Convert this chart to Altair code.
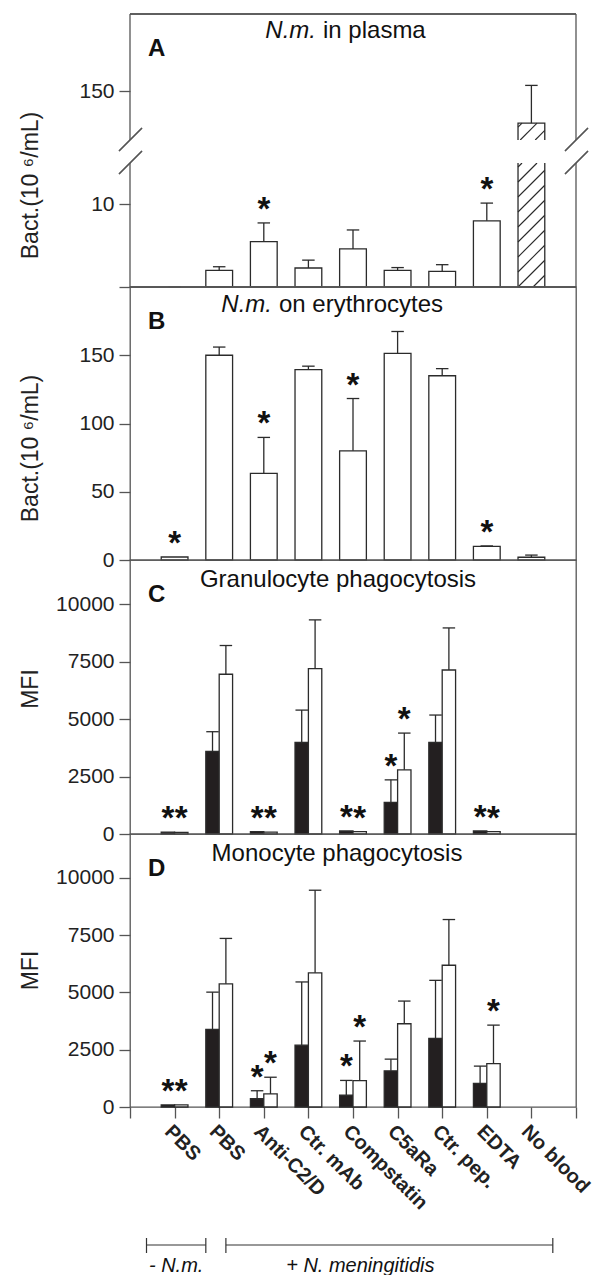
import altair as alt
import pandas as pd

# ---------------- data ----------------
categories = ["PBS", "PBS", "Anti-C2/D", "Ctr. mAb", "Compstatin", "C5aRa", "Ctr. pep.", "EDTA", "No blood"]
positions = [1, 2, 3, 4, 5, 6, 7, 8, 9]

plasma_mean = [0.0, 2.0, 5.5, 2.3, 4.6, 2.0, 1.9, 8.0, 127.0]
plasma_sd = [0.0, 0.45, 2.25, 0.95, 2.3, 0.35, 0.8, 2.15, 27.0]
plasma_star = [0, 0, 1, 0, 0, 0, 0, 1, 0]

erythro_mean = [2.2, 150.0, 63.5, 139.5, 80.0, 151.4, 135.0, 10.0, 2.0]
erythro_sd = [None, 6.0, 26.3, 2.5, 38.3, 16.0, 5.2, 0.3, 1.6]
erythro_star = [1, 0, 1, 0, 1, 0, 0, 1, 0]

gran_black = [80, 3590, 100, 3980, 130, 1380, 3980, 130, None]
gran_black_sd = [None, 860, None, 1410, None, 975, 1195, None, None]
gran_white = [70, 6950, 80, 7195, 100, 2790, 7135, 100, None]
gran_white_sd = [None, 1250, None, 2120, None, 1600, 1830, None, None]
gran_black_star = [1, 0, 1, 0, 1, 1, 0, 1, 0]
gran_white_star = [1, 0, 1, 0, 1, 1, 0, 1, 0]

mono_black = [90, 3390, 360, 2700, 520, 1580, 3000, 1030, None]
mono_black_sd = [None, 1625, 350, 2760, 640, 510, 2530, 755, None]
mono_white = [90, 5380, 570, 5860, 1150, 3635, 6190, 1890, None]
mono_white_sd = [None, 1980, 730, 3605, 1730, 990, 1995, 1685, None]
mono_black_star = [1, 0, 1, 0, 1, 0, 0, 0, 0]
mono_white_star = [1, 0, 1, 0, 1, 0, 0, 1, 0]

group_labels = ["- N.m.", "+ N. meningitidis"]
group_first = [1, 2]
group_last = [1, 9]

# ---------------- layout / style ----------------
W = 446
HA, HB, HC, HD = 273, 273, 274, 273
HALF = 0.3
CAP = 0.14
DARK = "#2b2b2b"
FRAME = "#555555"
BLACK = "#231f20"
FONT = "Liberation Sans"
SW = 1.3

A_LO, A_HI, A_TOP = 15, 115, 205
A_RANGE = [HA, 149, 126, 0]

xs = alt.Scale(domain=[0, 10], nice=False, zero=False)


def make_rows(means, sds, stars, kind, fill):
    recs = []
    for p, m, s, st in zip(positions, means, sds, stars):
        if m is None:
            continue
        if kind == "single":
            x0, x1 = p - HALF, p + HALF
        elif kind == "left":
            x0, x1 = p - HALF, p
        else:
            x0, x1 = p, p + HALF
        xc = (x0 + x1) / 2
        recs.append({"x0": x0, "x1": x1, "xc": xc, "c0": xc - CAP, "c1": xc + CAP,
                     "value": m, "base": 0.0,
                     "top": m + (s if s is not None else 0.0),
                     "err": 1 if s is not None else 0, "star": st, "fill": fill})
    return recs


def data_layers(df, ysc, yax, xax):
    def X(f):
        return alt.X(f, type="quantitative", scale=xs, axis=xax)

    def Y(f):
        return alt.Y(f, type="quantitative", scale=ysc, axis=yax)

    base = alt.Chart(df)
    bars = base.transform_filter("datum.value > 0").mark_rect(stroke=DARK, strokeWidth=SW).encode(
        x=X("x0"), x2=alt.X2("x1"), y=Y("value"), y2=alt.Y2("base"),
        fill=alt.Fill("fill:N", scale=None))
    whisk = base.transform_filter("datum.err == 1 && datum.top > datum.value").mark_rule(
        color=DARK, strokeWidth=SW).encode(x=X("xc"), y=Y("value"), y2=alt.Y2("top"))
    caps = base.transform_filter("datum.err == 1").mark_rule(color=DARK, strokeWidth=SW).encode(
        x=X("c0"), x2=alt.X2("c1"), y=Y("top"))
    stars = base.transform_filter("datum.star == 1").mark_text(
        text="*", font=FONT, fontWeight="bold", fontSize=33, baseline="alphabetic",
        dy=-3, color="#111").encode(x=X("xc"), y=Y("top"))
    return bars, whisk, caps, stars


def text_layer(txt, x, y, align="left", size=24, weight="normal", style="normal"):
    return alt.Chart(pd.DataFrame({"t": [txt]})).mark_text(
        align=align, baseline="alphabetic", font=FONT, fontSize=size, fontWeight=weight,
        fontStyle=style, color="#111").encode(x=alt.value(x), y=alt.value(y), text="t:N")


def yaxis(values, title, ty, fmt=None, expr=None):
    kw = dict(values=values, title=title, titleX=-88, titleY=ty, titleBaseline="bottom",
              titleFont=FONT, titleFontSize=23, titleFontWeight="normal", titleColor="#222",
              tickSize=11, tickWidth=SW, tickColor=FRAME, domain=False, grid=False,
              labelFont=FONT, labelFontSize=21, labelColor="#222", labelPadding=5)
    if fmt:
        kw["format"] = fmt
    if expr:
        kw["labelExpr"] = expr
    return alt.Axis(**kw)


# ---------------- panel A (broken axis) ----------------
dfA = pd.DataFrame(make_rows(plasma_mean, plasma_sd, plasma_star, "single", "white"))
yscA = alt.Scale(domain=[0, A_LO, A_HI, A_TOP], range=A_RANGE, nice=False, zero=False)
yaxA = yaxis([0, 10, 150], "Bact.(10 ⁶/mL)", 171, expr="datum.value == 0 ? '' : datum.label")
barsA, whiskA, capsA, starsA = data_layers(dfA, yscA, yaxA, None)

# hatch pattern for the "No blood" bar (style only)
ppx = W / 10.0
hx0, hx1 = (positions[8] - HALF) * ppx, (positions[8] + HALF) * ppx
slope, step = 1.0, 15.0


def px_to_val(py):
    if py >= A_RANGE[1]:
        return (A_RANGE[0] - py) * A_LO / (A_RANGE[0] - A_RANGE[1])
    return A_HI + (A_RANGE[2] - py) * (A_TOP - A_HI) / (A_RANGE[2] - A_RANGE[3])


def val_to_px(v):
    if v <= A_LO:
        return A_RANGE[0] - v * (A_RANGE[0] - A_RANGE[1]) / A_LO
    return A_RANGE[2] - (v - A_HI) * (A_RANGE[2] - A_RANGE[3]) / (A_TOP - A_HI)


hatch = []
segments = [(val_to_px(A_LO), A_RANGE[0]), (val_to_px(plasma_mean[8]), A_RANGE[2])]
for yT, yB in segments:
    c = yT + 4
    while c < yB + slope * (hx1 - hx0):
        xa = max(hx0, hx0 + (c - yB) / slope)
        xb = min(hx1, hx0 + (c - yT) / slope)
        if xb > xa + 0.5:
            ya = c - slope * (xa - hx0)
            yb = c - slope * (xb - hx0)
            hatch.append({"hx0": xa / ppx, "hx1": xb / ppx, "hy0": px_to_val(ya), "hy1": px_to_val(yb)})
        c += step
hatchA = alt.Chart(pd.DataFrame(hatch)).mark_rule(color=DARK, strokeWidth=1.1).encode(
    x=alt.X("hx0:Q", scale=xs, axis=None), x2=alt.X2("hx1"),
    y=alt.Y("hy0:Q", scale=yscA, axis=yaxA), y2=alt.Y2("hy1"))

gapA = alt.Chart(pd.DataFrame({"g0": [positions[8] - 0.4], "g1": [positions[8] + 0.4],
                               "v0": [A_LO], "v1": [A_HI]})).mark_rect(fill="white").encode(
    x=alt.X("g0:Q", scale=xs, axis=None), x2=alt.X2("g1"),
    y=alt.Y("v0:Q", scale=yscA, axis=yaxA), y2=alt.Y2("v1"))

frame_df = pd.DataFrame({"f0": [0, A_HI], "f1": [A_LO, A_TOP]})
frameL = alt.Chart(frame_df).mark_rule(color=FRAME, strokeWidth=1.3).encode(
    x=alt.value(0), y=alt.Y("f0:Q", scale=yscA, axis=yaxA), y2=alt.Y2("f1"))
frameR = alt.Chart(frame_df).mark_rule(color=FRAME, strokeWidth=1.3).encode(
    x=alt.value(W), y=alt.Y("f0:Q", scale=yscA, axis=yaxA), y2=alt.Y2("f1"))
frameT = alt.Chart(frame_df).mark_rule(color=FRAME, strokeWidth=1.3).encode(
    x=alt.value(0), x2=alt.value(W), y=alt.value(0))
frameB = alt.Chart(frame_df).mark_rule(color=FRAME, strokeWidth=1.3).encode(
    x=alt.value(0), x2=alt.value(W), y=alt.value(HA))

breaks = []
for bx in (0, W):
    for (y0, y1) in ((160, 137), (137, 114)):
        breaks.append(alt.Chart(frame_df).mark_rule(color=FRAME, strokeWidth=1.2).encode(
            x=alt.value(bx - 11), x2=alt.value(bx + 12), y=alt.value(y0), y2=alt.value(y1)))

pA = alt.layer(
    barsA, hatchA, gapA, whiskA, capsA, starsA, frameL, frameR, frameT, frameB, *breaks,
    text_layer("A", 18, 42, weight="bold"),
    text_layer("N.m.", 186, 24, align="right", style="italic"),
    text_layer("in plasma", 193, 24),
).properties(width=W, height=HA, view=alt.ViewBackground(stroke=None))

# ---------------- panel B ----------------
dfB = pd.DataFrame(make_rows(erythro_mean, erythro_sd, erythro_star, "single", "white"))
yscB = alt.Scale(domain=[0, 200], nice=False, zero=False)
yaxB = yaxis([0, 50, 100, 150], "Bact.(10 ⁶/mL)", 161)
pB = alt.layer(
    *data_layers(dfB, yscB, yaxB, None),
    text_layer("B", 18, 42, weight="bold"),
    text_layer("N.m.", 142, 25, align="right", style="italic"),
    text_layer("on erythrocytes", 149, 25),
).properties(width=W, height=HB)

# ---------------- panel C ----------------
dfC = pd.DataFrame(make_rows(gran_black, gran_black_sd, gran_black_star, "left", BLACK)
                   + make_rows(gran_white, gran_white_sd, gran_white_star, "right", "white"))
yscC = alt.Scale(domain=[0, 11920], nice=False, zero=False)
yaxC = yaxis([0, 2500, 5000, 7500, 10000], "MFI", 128.5, fmt="d")
pC = alt.layer(
    *data_layers(dfC, yscC, yaxC, None),
    text_layer("C", 18, 42, weight="bold"),
    text_layer("Granulocyte phagocytosis", 208, 27, align="center"),
).properties(width=W, height=HC)

# ---------------- panel D ----------------
dfD = pd.DataFrame(make_rows(mono_black, mono_black_sd, mono_black_star, "left", BLACK)
                   + make_rows(mono_white, mono_white_sd, mono_white_star, "right", "white"))
yscD = alt.Scale(domain=[0, 11920], nice=False, zero=False)
yaxD = yaxis([0, 2500, 5000, 7500, 10000], "MFI", 136, fmt="d")
lab_arr = "[''," + ",".join("'" + c + "'" for c in categories) + ",'']"
xaxD = alt.Axis(values=list(range(11)), labelExpr=lab_arr + "[datum.value]", title=None,
                tickSize=11, tickWidth=SW, tickColor=FRAME, domain=False, grid=False,
                labelAngle=45, labelAlign="left", labelBaseline="top", labelFont=FONT,
                labelFontWeight="bold", labelFontSize=20, labelColor="#222", labelPadding=3,
                labelOverlap=False, labelFlush=False)

pad_l = [0.63, -0.15]
pad_r = [0.70, 0.48]
txt_shift = [0.0, -0.65]
grp = pd.DataFrame({
    "label": group_labels,
    "b0": [f - a for f, a in zip(group_first, pad_l)],
    "b1": [l + b for l, b in zip(group_last, pad_r)],
})
grp["tx"] = (grp["b0"] + grp["b1"]) / 2 + pd.Series(txt_shift)
bracket = alt.Chart(grp).mark_rule(color="#333", strokeWidth=1.2).encode(
    x=alt.X("b0:Q", scale=xs, axis=xaxD), x2=alt.X2("b1"), y=alt.value(411))
endL = alt.Chart(grp).mark_rule(color="#333", strokeWidth=1.2).encode(
    x=alt.X("b0:Q", scale=xs, axis=xaxD), y=alt.value(404), y2=alt.value(419))
endR = alt.Chart(grp).mark_rule(color="#333", strokeWidth=1.2).encode(
    x=alt.X("b1:Q", scale=xs, axis=xaxD), y=alt.value(404), y2=alt.value(419))
gtext = alt.Chart(grp).mark_text(font=FONT, fontSize=20, fontStyle="italic", align="center",
                                 baseline="alphabetic", color="#111").encode(
    x=alt.X("tx:Q", scale=xs, axis=xaxD), y=alt.value(438), text="label:N")

pD = alt.layer(
    *data_layers(dfD, yscD, yaxD, xaxD),
    bracket, endL, endR, gtext,
    text_layer("D", 18, 42, weight="bold"),
    text_layer("Monocyte phagocytosis", 207, 27, align="center"),
).properties(width=W, height=HD)

chart = alt.vconcat(pA, pB, pC, pD, spacing=0, bounds="flush").properties(
    padding={"left": 10, "top": 5, "right": 0, "bottom": 0}
).configure_view(stroke=FRAME, strokeWidth=1.3)

chart.save("out.html", embed_options={"renderer": "svg", "actions": False})
